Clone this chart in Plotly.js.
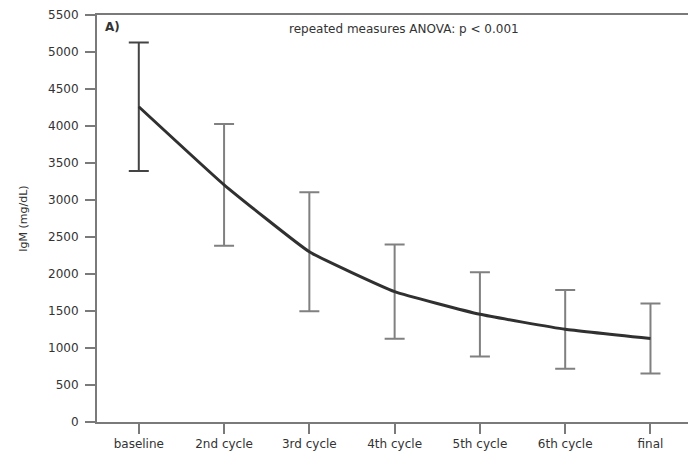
<!DOCTYPE html>
<html>
<head>
<meta charset="utf-8">
<script src="https://cdn.plot.ly/plotly-3.0.1.min.js"></script>
<style>
  html, body { margin: 0; padding: 0; background: #fff; }
  #chart { width: 688px; height: 452px; }
</style>
</head>
<body>
<div id="chart"></div>
<script>
// Serum IgM over treatment cycles (mean ± SD)
const timepoints = ["baseline", "2nd cycle", "3rd cycle", "4th cycle", "5th cycle", "6th cycle", "final"];
const igmMean = [4260, 3205, 2300, 1762, 1455, 1252, 1127];
const igmSD = [868, 822, 805, 638, 570, 533, 473];
const yTicks = [0, 500, 1000, 1500, 2000, 2500, 3000, 3500, 4000, 4500, 5000, 5500];

const idx = timepoints.map((_, i) => i);
const axisGrey = "#7a7a7a";
const fontFamily = "'DejaVu Sans', 'Liberation Sans', Arial, sans-serif";

const traces = [
  {
    // error bars (later cycles)
    x: idx.slice(1),
    y: igmMean.slice(1),
    type: "scatter",
    mode: "markers",
    marker: { size: 1, opacity: 0 },
    error_y: { type: "data", array: igmSD.slice(1), visible: true,
               color: "#808080", thickness: 2, width: 10 },
    hoverinfo: "skip",
    showlegend: false
  },
  {
    // error bar at baseline
    x: idx.slice(0, 1),
    y: igmMean.slice(0, 1),
    type: "scatter",
    mode: "markers",
    marker: { size: 1, opacity: 0 },
    error_y: { type: "data", array: igmSD.slice(0, 1), visible: true,
               color: "#444444", thickness: 2, width: 10 },
    hoverinfo: "skip",
    showlegend: false
  },
  {
    // mean trajectory
    x: idx,
    y: igmMean,
    type: "scatter",
    mode: "lines",
    line: { color: "#303030", width: 3, shape: "spline", smoothing: 0.35 },
    showlegend: false
  }
];

const layout = {
  width: 688,
  height: 452,
  margin: { l: 97, r: 0, t: 15, b: 30 },
  paper_bgcolor: "#fff",
  plot_bgcolor: "#fff",
  font: { family: fontFamily, size: 12, color: "#333" },
  showlegend: false,
  xaxis: {
    range: [-0.49, 6.44],
    tickvals: idx,
    ticktext: timepoints,
    ticks: "outside",
    ticklen: 10,
    tickwidth: 2,
    tickcolor: axisGrey,
    showline: true,
    linecolor: axisGrey,
    linewidth: 2,
    mirror: true,
    showgrid: false,
    zeroline: false,
    tickfont: { size: 12, color: "#333" },
    fixedrange: true
  },
  yaxis: {
    range: [0, 5500],
    tickvals: yTicks,
    ticks: "outside",
    ticklen: 10,
    tickwidth: 2,
    tickcolor: axisGrey,
    ticklabelstandoff: 4,
    showline: true,
    linecolor: axisGrey,
    linewidth: 2,
    showgrid: false,
    zeroline: false,
    tickfont: { size: 12, color: "#333" },
    title: { text: "IgM (mg/dL)", font: { size: 11, color: "#333" }, standoff: 18 },
    fixedrange: true
  },
  annotations: [
    {
      text: "<b>A)</b>",
      xref: "paper", yref: "paper",
      x: 0.01, y: 0.97,
      xanchor: "left", yanchor: "middle",
      showarrow: false,
      font: { size: 12, color: "#333" }
    },
    {
      text: "repeated measures ANOVA: p < 0.001",
      xref: "paper", yref: "paper",
      x: 0.52, y: 0.966,
      xanchor: "center", yanchor: "middle",
      showarrow: false,
      font: { size: 12, color: "#333" }
    }
  ]
};

Plotly.newPlot("chart", traces, layout, { displayModeBar: false, staticPlot: true });
</script>
</body>
</html>
